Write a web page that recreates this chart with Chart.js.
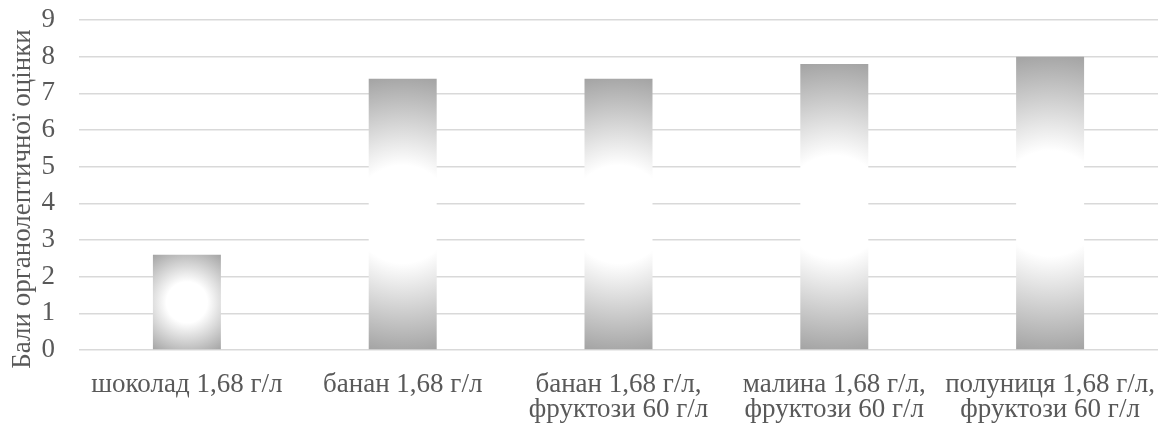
<!DOCTYPE html>
<html>
<head>
<meta charset="utf-8">
<script src="https://cdn.jsdelivr.net/npm/chart.js@4/dist/chart.umd.min.js"></script>
<style>
html,body{margin:0;padding:0;background:#fff;}
#wrap{width:1161px;height:425px;position:relative;}
</style>
</head>
<body>
<div id="wrap"><canvas id="c"></canvas></div>
<script>
const categories = [
  ["шоколад 1,68 г/л"],
  ["банан 1,68 г/л"],
  ["банан 1,68 г/л,", "фруктози 60 г/л"],
  ["малина 1,68 г/л,", "фруктози 60 г/л"],
  ["полуниця 1,68 г/л,", "фруктози 60 г/л"]
];
const scores = [2.6, 7.4, 7.4, 7.8, 8.0];
const yTicks = [0, 1, 2, 3, 4, 5, 6, 7, 8, 9];
const yTitle = "Бали органолептичної оцінки";

const FONT = "'Liberation Serif', 'Times New Roman', serif";
const TXT = '#595959';
const FS = 27;

function barFill(ctx) {
  const chart = ctx.chart;
  if (!chart.chartArea || ctx.type !== 'data') return '#bfbfbf';
  const xs = chart.scales.x, ys = chart.scales.y;
  const i = ctx.dataIndex;
  const cx = xs.getPixelForValue(i);
  const top = ys.getPixelForValue(ctx.raw);
  const base = ys.getPixelForValue(0);
  const cy = (top + base) / 2;
  const w = xs.width / categories.length * 0.315;
  const h = base - top;
  const R = Math.sqrt((w / 2) ** 2 + (h / 2) ** 2);
  const g = chart.ctx.createRadialGradient(cx, cy, 0, cx, cy, R);
  g.addColorStop(0, '#ffffff');
  g.addColorStop(0.35, '#ffffff');
  g.addColorStop(1, '#a3a3a3');
  return g;
}

// shift the y-axis title's centring range a little lower, as in the reference
const titleShift = {
  id: 'titleShift',
  afterLayout(chart) {
    const y = chart.scales.y;
    y.bottom = chart.chartArea.bottom + 28;
  }
};

new Chart(document.getElementById('c'), {
  type: 'bar',
  data: {
    labels: categories,
    datasets: [{
      data: scores,
      backgroundColor: barFill,
      borderWidth: 0,
      categoryPercentage: 1,
      barPercentage: 0.315
    }]
  },
  plugins: [titleShift],
  options: {
    responsive: true,
    maintainAspectRatio: false,
    animation: false,
    devicePixelRatio: 1,
    layout: { padding: { top: 20, right: 3, left: 0, bottom: 0 } },
    plugins: { legend: { display: false }, tooltip: { enabled: false } },
    scales: {
      x: {
        grid: { display: false, drawTicks: false },
        border: { display: false },
        ticks: {
          autoSkip: false, maxRotation: 0, minRotation: 0,
          color: TXT, padding: 22,
          font: { family: FONT, size: FS, lineHeight: 0.926 }
        },
        afterFit: (s) => { s.height = 75; s.paddingLeft = 0; s.paddingRight = 0; s.paddingTop = 0; s.paddingBottom = 0; }
      },
      y: {
        min: 0, max: 9,
        afterBuildTicks: (axis) => { axis.ticks = yTicks.map(v => ({ value: v })); },
        grid: { color: '#d9d9d9', lineWidth: 1.5, drawTicks: false },
        border: { display: false },
        ticks: {
          autoSkip: false, stepSize: 1,
          color: TXT, padding: 24,
          font: { family: FONT, size: FS }
        },
        title: {
          display: true, text: yTitle, color: TXT,
          font: { family: FONT, size: FS, lineHeight: 1.0 },
          padding: { top: 9, bottom: 0 }
        },
        afterFit: (s) => { s.width = 79; s.paddingTop = 0; s.paddingBottom = 0; }
      }
    }
  }
});
</script>
</body>
</html>
